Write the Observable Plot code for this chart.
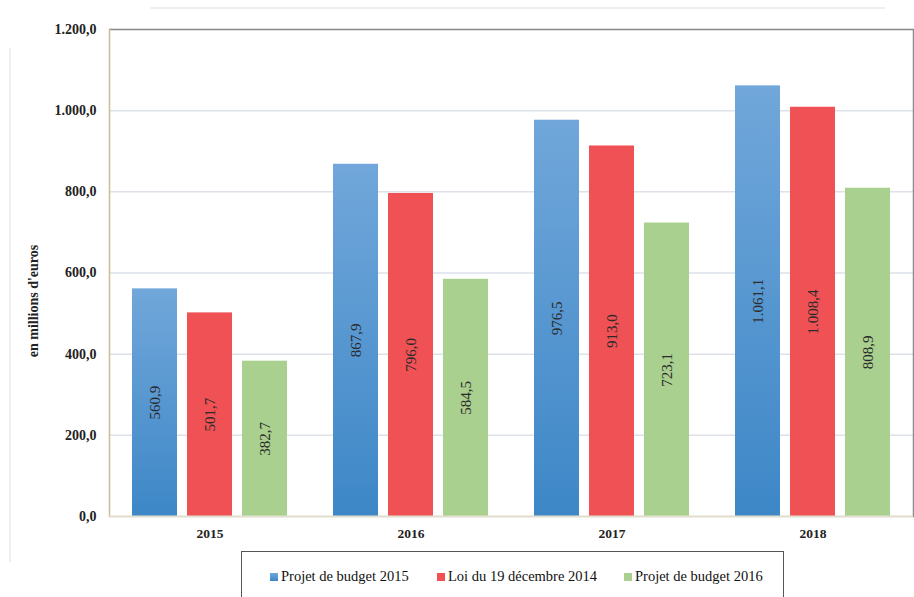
<!DOCTYPE html>
<html>
<head>
<meta charset="utf-8">
<script src="https://cdn.jsdelivr.net/npm/d3@7"></script>
<script src="https://cdn.jsdelivr.net/npm/@observablehq/plot@0.6"></script>
<style>
  html, body { margin: 0; padding: 0; background: #fff; }
  #wrap { position: relative; width: 914px; height: 597px; overflow: hidden; font-family: "Liberation Serif", "DejaVu Serif", serif; }
  #chart { position: absolute; left: 0; top: 0; }
  .deco-top { position: absolute; left: 150px; top: 7px; width: 735px; height: 2px; background: #eeeff2; }
  .deco-left { position: absolute; left: 9px; top: 48px; width: 2px; height: 514px; background: #eeeff2; }
  #legend { position: absolute; left: 241px; top: 551px; width: 543px; height: 60px; border: 1.5px solid #555; box-sizing: border-box; }
  .item { position: absolute; top: 16px; display: flex; align-items: center; font-size: 14.5px; color: #111; white-space: nowrap; }
  .sw { width: 8px; height: 8px; margin-right: 3px; }
</style>
</head>
<body>
<div id="wrap">
  <div id="chart"></div>
  <div class="deco-top"></div>
  <div class="deco-left"></div>
  <div id="legend"></div>
</div>
<script>
const years = ["2015", "2016", "2017", "2018"];
const series = ["Projet de budget 2015", "Loi du 19 décembre 2014", "Projet de budget 2016"];
const projetBudget2015 = [560.9, 867.9, 976.5, 1061.1];
const loi19Dec2014 = [501.7, 796.0, 913.0, 1008.4];
const projetBudget2016 = [382.7, 584.5, 723.1, 808.9];
const yTicks = [0, 200, 400, 600, 800, 1000, 1200];
const seriesColors = ["#5b9bd5", "#f05155", "#a9d08e"];
const legendLeft = [28, 195, 382];

const fr = d3.formatLocale({decimal: ",", thousands: ".", grouping: [3], currency: ["", " €"]});
const fmt = fr.format(",.1f");

const valuesBySeries = [projetBudget2015, loi19Dec2014, projetBudget2016];
const data = years.flatMap((year, i) =>
  series.map((s, j) => ({year, series: s, value: valuesBySeries[j][i]}))
);

const barMarks = series.map((s, j) =>
  Plot.barY(data.filter(d => d.series === s), {
    fx: "year", x: "series", y: "value",
    fill: seriesColors[j],
    className: "bars-" + j
  })
);

const chart = Plot.plot({
  width: 914,
  height: 545,
  marginLeft: 109,
  marginRight: 1,
  marginTop: 29,
  marginBottom: 29,
  style: {fontFamily: "'Liberation Serif', 'DejaVu Serif', serif", fontSize: "13px", color: "#333", background: "white"},
  fx: {domain: years, padding: 0, label: null, axis: null},
  x: {domain: series, paddingInner: 0.18, paddingOuter: 0.39, axis: null},
  y: {domain: [0, 1200]},
  marks: [
    Plot.gridY(yTicks, {stroke: "#dde1e8", strokeOpacity: 1, strokeWidth: 1.5}),
    Plot.ruleY([1200], {stroke: "#8c8c8c", strokeWidth: 1.5}),
    Plot.frame({anchor: "left", stroke: "#cbbd92", strokeWidth: 1.5, facet: "super"}),
    Plot.frame({anchor: "right", stroke: "#8c8c8c", strokeWidth: 1.5, facet: "super"}),
    ...barMarks,
    Plot.ruleY([0], {stroke: "#e4dfcf", strokeWidth: 2}),
    Plot.text(data, {
      fx: "year", x: "series", y: d => d.value / 2,
      text: d => fmt(d.value), rotate: -90,
      fontSize: 15, fill: "#2b2b2b"
    }),
    Plot.axisY(yTicks, {tickSize: 0, tickPadding: 13, tickFormat: fmt, fontWeight: "bold", fontSize: 14, fill: "#222", label: null}),
    Plot.axisFx({anchor: "bottom", tickSize: 0, tickPadding: 12, fontWeight: "bold", fontSize: 13.5, fill: "#222", label: null}),
    Plot.text(["en millions d'euros"], {
      frameAnchor: "left", textAnchor: "middle", rotate: -90, dx: -76, dy: 28,
      fontSize: 14, fontWeight: "bold", fill: "#222", facet: "super"
    })
  ]
});

// gradient for the blue series
const svg = d3.select(chart);
const defs = svg.insert("defs", ":first-child");
const grad = defs.append("linearGradient").attr("id", "gradBlue")
  .attr("x1", 0).attr("y1", 0).attr("x2", 0).attr("y2", 1);
grad.append("stop").attr("offset", "0%").attr("stop-color", "#71a7da");
grad.append("stop").attr("offset", "100%").attr("stop-color", "#3d87c7");
svg.selectAll("g.bars-0").attr("fill", "url(#gradBlue)");
svg.selectAll("g.bars-0 rect").attr("fill", "url(#gradBlue)");

document.getElementById("chart").appendChild(chart);

const legend = document.getElementById("legend");
series.forEach((s, j) => {
  const item = document.createElement("div");
  item.className = "item";
  item.style.left = legendLeft[j] + "px";
  const sw = document.createElement("span");
  sw.className = "sw";
  sw.style.background = j === 0 ? "linear-gradient(#71a7da, #3d87c7)" : seriesColors[j];
  const label = document.createElement("span");
  label.textContent = s;
  item.appendChild(sw);
  item.appendChild(label);
  legend.appendChild(item);
});
</script>
</body>
</html>
